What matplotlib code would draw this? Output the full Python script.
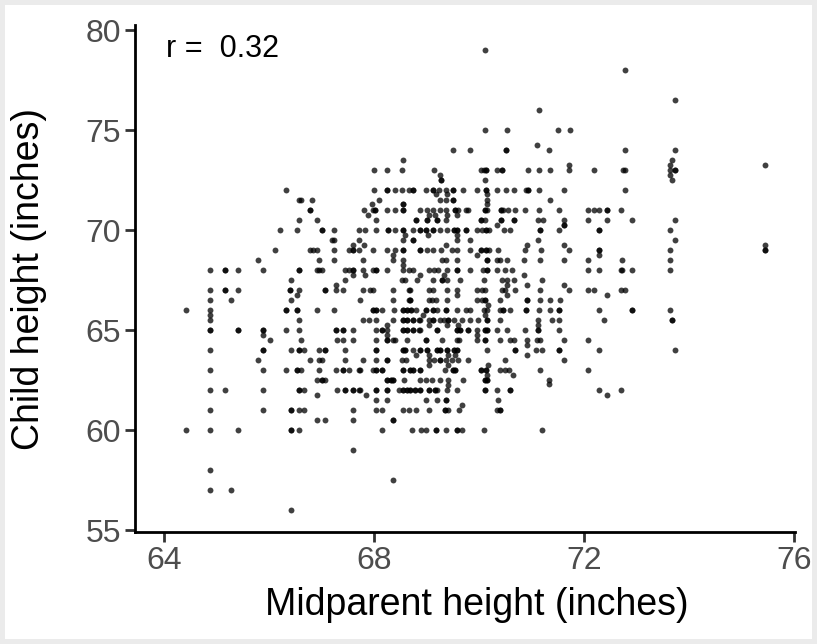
import numpy as np
import matplotlib
matplotlib.use("Agg")
import matplotlib.pyplot as plt
from matplotlib.patches import Rectangle

# child height rows and the midparent heights of the points sitting on each row
child_rows = [79, 78, 76.5, 76, 75, 74.25, 74, 73.5, 73.25, 73, 72.75, 72.5, 72, 71.8, 71.5, 71.3, 71,
              70.75, 70.5, 70.25, 70, 69.75, 69.5, 69.25, 69, 68.75, 68.5, 68.25, 68, 67.75, 67.5,
              67.25, 67, 66.75, 66.5, 66.25, 66, 65.75, 65.5, 65.25, 65, 64.75, 64.5, 64.25, 64,
              63.75, 63.5, 63.25, 63, 62.75, 62.5, 62.3, 62.25, 62, 61.75, 61.5, 61.25, 61, 60.5,
              60, 59, 58, 57.5, 57, 56]

midparent_rows = [
    [70.11],
    [72.77],
    [73.73],
    [71.14],
    [70.11, 70.53, 71.50, 71.73],
    [71.10],
    [69.49, 69.82, 70.50, 70.50, 71.33, 72.77, 73.73],
    [68.54, 73.66],
    [71.70, 73.62, 75.44],
    [67.99, 68.24, 68.53, 69.14, 70.03, 70.09, 70.13, 70.13, 70.33, 70.43, 70.43, 70.92, 71.13,
     71.34, 71.70, 72.18, 72.73, 72.77, 73.62, 73.73, 73.73],
    [69.25, 73.62],
    [69.27, 69.27, 70.11, 73.66],
    [66.32, 67.99, 68.24, 68.24, 68.39, 68.53, 68.65, 68.73, 68.73, 68.98, 69.11, 69.11, 69.23,
     69.37, 69.49, 69.49, 69.68, 69.95, 70.13, 70.13, 70.34, 70.51, 70.66, 70.88, 70.92, 70.92,
     71.14, 71.61, 72.77],
    [69.18, 69.38, 70.14],
    [66.57, 66.60, 66.82, 68.08, 69.25, 69.37, 69.49, 69.49, 70.14, 71.34],
    [67.95, 68.55, 68.55, 70.14],
    [66.78, 66.78, 67.80, 67.98, 68.01, 68.01, 68.24, 68.39, 68.55, 68.55, 68.86, 69.00, 69.12,
     69.25, 69.37, 69.54, 69.54, 69.59, 69.75, 69.79, 70.11, 70.11, 70.14, 70.41, 70.41, 70.45,
     70.55, 70.68, 70.87, 71.14, 71.51, 72.07, 72.18, 72.27, 72.42, 72.42, 72.69],
    [67.88, 69.03, 69.16, 69.39, 69.57],
    [66.57, 66.90, 68.03, 68.79, 68.79, 69.00, 69.00, 69.20, 69.20, 69.37, 70.03, 70.03, 70.11,
     70.41, 70.41, 70.66, 70.66, 71.11, 71.21, 71.61, 72.07, 72.42, 72.91, 73.73],
    [70.34, 71.61, 71.61],
    [66.21, 66.52, 67.00, 67.00, 67.23, 67.70, 67.82, 68.03, 68.25, 68.25, 68.39, 68.54, 68.54,
     68.73, 68.87, 68.87, 68.98, 68.98, 69.11, 69.11, 69.25, 69.39, 69.52, 69.52, 69.58, 69.58,
     69.75, 69.75, 69.95, 70.05, 70.13, 70.13, 70.19, 70.47, 70.59, 71.16, 71.16, 71.51, 72.27,
     72.27, 73.62],
    [68.59, 69.02, 69.58],
    [67.19, 67.23, 67.70, 68.54, 68.73, 68.73, 69.57, 69.82, 71.11, 73.73],
    [67.60, 67.80, 69.37, 70.90, 71.61, 75.44],
    [66.11, 66.78, 66.83, 66.90, 67.23, 67.52, 67.60, 67.60, 67.70, 67.98, 68.24, 68.39, 68.54,
     68.54, 68.87, 68.87, 69.00, 69.11, 69.26, 69.47, 69.57, 69.82, 70.03, 70.03, 70.13, 70.13,
     70.19, 70.36, 70.87, 71.17, 71.70, 72.27, 72.27, 73.62, 75.44, 75.44],
    [68.35, 69.95, 72.27],
    [65.79, 66.95, 67.23, 67.79, 68.35, 68.55, 69.28, 69.37, 69.57, 70.15, 70.15, 70.33, 70.39,
     70.52, 70.85, 71.16, 71.61, 72.07, 72.72, 73.62],
    [68.54],
    [64.86, 65.16, 65.16, 65.40, 65.87, 66.57, 66.57, 66.90, 66.95, 67.00, 67.44, 67.52, 67.60,
     67.60, 67.79, 67.98, 68.03, 68.03, 68.24, 68.55, 68.65, 68.74, 69.03, 69.13, 69.22, 69.38,
     69.57, 69.57, 69.82, 70.06, 70.15, 70.15, 70.33, 70.49, 70.62, 72.07, 72.27, 72.69, 72.71,
     72.91, 73.62],
    [67.60, 67.82, 68.87, 69.33, 70.84],
    [66.41, 67.44, 68.52, 68.59, 68.81, 69.11, 69.28, 69.28, 69.39, 69.63, 70.08, 70.43, 70.52,
     70.66, 71.19],
    [67.27, 70.52, 70.90, 71.61],
    [64.86, 65.16, 65.16, 65.40, 66.40, 66.40, 66.57, 67.06, 67.06, 67.27, 67.41, 67.79, 67.92,
     67.98, 68.36, 68.65, 68.68, 69.03, 69.12, 69.38, 69.57, 69.95, 70.05, 70.11, 70.43, 70.49,
     70.68, 71.16, 71.70, 72.07, 72.18, 72.69, 72.77],
    [66.52, 69.57, 70.52, 72.42],
    [64.86, 65.27, 66.41, 67.73, 68.36, 68.65, 68.68, 68.68, 69.03, 69.09, 69.18, 69.38, 69.95,
     70.05, 70.11, 70.11, 70.39, 70.90, 70.90, 71.16, 71.35, 71.54],
    [70.17],
    [64.41, 64.86, 66.32, 66.32, 66.52, 66.52, 66.90, 67.23, 67.98, 67.98, 68.03, 68.03, 68.14,
     68.38, 68.54, 68.54, 68.62, 68.62, 68.69, 68.69, 68.79, 68.98, 68.98, 69.11, 69.11, 69.19,
     69.37, 69.37, 69.57, 69.75, 69.82, 70.08, 70.15, 70.39, 70.45, 70.45, 70.59, 70.89, 70.89,
     71.14, 71.35, 71.51, 71.51, 72.27, 72.90, 72.90, 73.62],
    [64.86, 68.93, 70.11],
    [64.86, 66.57, 67.79, 67.89, 68.03, 68.36, 68.54, 68.54, 68.62, 68.62, 68.74, 68.74, 68.84,
     68.87, 69.03, 69.12, 69.12, 69.24, 69.32, 69.41, 69.41, 69.52, 69.67, 69.82, 69.98, 70.15,
     70.15, 70.39, 71.12, 71.38, 71.51, 72.38, 73.66, 73.66],
    [68.24, 69.03, 69.38, 69.60, 71.12],
    [64.86, 64.86, 65.40, 65.40, 65.87, 65.87, 66.32, 66.57, 67.27, 67.27, 67.41, 67.41, 67.60,
     68.03, 68.14, 68.14, 68.24, 68.54, 68.54, 68.62, 68.62, 68.74, 68.74, 68.84, 68.87, 69.19,
     69.19, 69.57, 69.57, 69.63, 69.63, 69.79, 69.79, 69.95, 70.11, 70.11, 70.15, 70.15, 70.33,
     70.52, 70.87, 71.11, 71.11, 71.51],
    [65.87, 68.24, 69.95],
    [66.02, 66.60, 67.29, 67.41, 67.60, 68.03, 68.24, 68.24, 68.36, 68.39, 68.62, 68.98, 68.98,
     69.28, 69.57, 69.62, 69.95, 70.11, 70.11, 70.39, 70.59, 70.66, 70.90, 71.09, 71.16, 71.61,
     72.07],
    [70.90],
    [64.86, 65.87, 65.87, 66.41, 66.57, 66.57, 66.65, 66.95, 67.06, 67.06, 67.44, 68.03, 68.03,
     68.54, 68.54, 68.59, 68.59, 68.74, 68.86, 68.86, 69.00, 69.00, 69.19, 69.19, 69.25, 69.25,
     69.39, 69.39, 69.51, 69.51, 69.58, 69.58, 70.15, 70.68, 70.68, 71.08, 71.19, 71.51, 71.51,
     72.27, 73.73],
    [68.79, 69.03, 69.41, 69.54, 70.90],
    [65.79, 66.78, 66.95, 67.00, 67.44, 67.79, 68.03, 68.24, 68.24, 68.52, 68.60, 69.03, 69.14,
     69.25, 69.25, 69.37, 69.47, 69.60, 69.79, 70.49, 71.61],
    [69.03, 69.41, 70.17],
    [64.86, 65.87, 66.32, 66.52, 66.52, 66.60, 66.95, 67.27, 67.41, 67.41, 67.52, 67.70, 67.73,
     67.98, 68.03, 68.03, 68.14, 68.14, 68.55, 68.55, 68.68, 68.68, 68.74, 68.74, 68.87, 68.87,
     69.35, 69.49, 69.49, 69.54, 69.54, 70.03, 70.03, 70.13, 70.13, 70.39, 70.49, 70.57, 71.16,
     72.07],
    [70.14, 70.64],
    [66.90, 67.00, 67.00, 67.06, 68.24, 68.24, 68.31, 68.31, 68.35, 68.35, 68.57, 68.86, 68.98,
     69.09, 69.25, 69.41, 69.68, 70.11, 70.11, 70.14, 70.14, 71.33],
    [71.33],
    [69.41],
    [64.86, 65.16, 65.87, 66.57, 66.57, 66.65, 67.29, 67.44, 67.44, 67.60, 67.60, 67.70, 67.73,
     68.03, 68.03, 68.24, 68.24, 68.46, 68.55, 68.55, 68.62, 68.62, 68.68, 68.68, 68.78, 68.78,
     68.86, 68.86, 69.03, 69.03, 69.16, 69.16, 69.20, 69.39, 69.57, 70.11, 70.11, 70.33, 70.59,
     70.59, 72.27, 72.69],
    [66.90, 67.84, 72.42],
    [68.03, 68.24, 68.98, 69.19, 69.37, 69.37, 70.36],
    [69.67],
    [64.86, 65.87, 66.41, 66.41, 66.57, 66.65, 67.60, 68.03, 68.14, 68.55, 68.65, 68.79, 69.03,
     69.35, 69.35, 69.41, 69.62, 70.33, 70.39, 70.39],
    [66.90, 67.06, 67.60, 68.35, 68.35],
    [64.41, 64.86, 65.40, 66.41, 66.41, 66.57, 68.15, 68.72, 68.88, 68.99, 69.18, 69.18, 69.36,
     69.58, 69.58, 69.66, 70.08, 71.19],
    [67.60],
    [64.86],
    [68.35],
    [64.86, 65.27],
    [66.41],
]

r_label = "r =  0.32"

x = []
y = []
for yc, xs in zip(child_rows, midparent_rows):
    x += xs
    y += [yc] * len(xs)

plt.rcParams['font.family'] = ['Liberation Sans', 'DejaVu Sans']

fig = plt.figure(figsize=(8.17, 6.44), dpi=100, facecolor="#EBEBEB")
fig.patches.append(Rectangle((5 / 817, 5 / 644), 807 / 817, 634 / 644, transform=fig.transFigure,
                             facecolor="white", edgecolor="none", zorder=-1))
ax = fig.add_axes([135 / 817, (644 - 532) / 644, 660 / 817, 507 / 644])
ax.set_facecolor("white")
ax.patch.set_alpha(0)

ax.scatter(x, y, s=18, color="black", alpha=0.75, linewidths=0)
ax.text(64.03, 79.05, r_label, ha="left", va="center", fontsize=22, color="black")

ax.set_xlim(63.44, 76.01)
ax.set_ylim(54.9, 80.25)
ax.set_xticks([64, 68, 72, 76])
ax.set_yticks([55, 60, 65, 70, 75, 80])

for s in ["top", "right"]:
    ax.spines[s].set_visible(False)
for s in ["left", "bottom"]:
    ax.spines[s].set_linewidth(2)
    ax.spines[s].set_color("black")
ax.tick_params(length=7, width=2, color="#333333", labelsize=23, labelcolor="#4D4D4D", pad=3)

ax.set_xlabel("Midparent height (inches)", fontsize=27, labelpad=8)
ax.set_ylabel("Child height (inches)", fontsize=27, labelpad=28)
ax.xaxis.label.set_x(0.518)

fig.savefig("out.png", dpi=100, facecolor=fig.get_facecolor())
